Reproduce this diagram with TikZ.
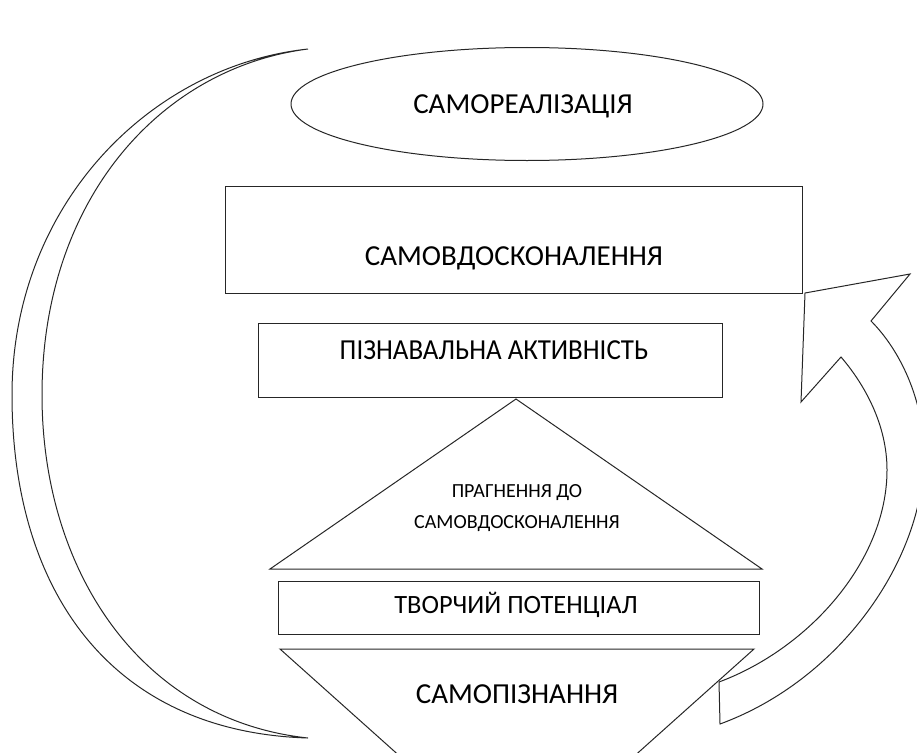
\documentclass[tikz,border=0pt]{standalone}
\usepackage{fontspec}
\usepackage{graphicx}
\setmainfont{Carlito}
\usetikzlibrary{shapes.geometric}
\begin{document}
\begin{tikzpicture}[x=1pt,y=-1pt,
  ln/.style={draw=black!85,line width=1pt,line join=miter},
  box/.style={ln,rectangle,inner sep=0pt},
  big/.style={font=\fontsize{29}{34}\selectfont,anchor=base,inner sep=0pt},
  mid/.style={font=\fontsize{26.4}{31}\selectfont,anchor=base,inner sep=0pt},
  small/.style={font=\fontsize{20}{24}\selectfont,anchor=base,inner sep=0pt}]
\path[use as bounding box, clip] (0,0) rectangle (917,752);
% left crescent arrow
\draw[ln] (308,49) .. controls (150,66) and (12,205) .. (12,395)
  .. controls (12,590) and (110,732) .. (308,738)
  .. controls (140,720) and (42,570) .. (42,395)
  .. controls (42,200) and (160,68) .. (308,49) -- cycle;
% right curved arrow
\draw[ln] (805,293) -- (910,274) -- (871,321)
  .. controls (900,350) and (924,400) .. (924,455)
  .. controls (924,560) and (840,680) .. (720,724)
  -- (719,682)
  .. controls (810,648) and (887,560) .. (887,470)
  .. controls (887,425) and (865,385) .. (841,357)
  -- (801,402) -- cycle;
% shapes
\node[ln,ellipse,minimum width=472pt,minimum height=113pt,inner sep=0pt] (real) at (527,104) {};
\node[box,minimum width=577pt,minimum height=107pt] (impr) at (513.5,239.5) {};
\node[box,minimum width=464pt,minimum height=74pt] (act) at (490,360) {};
\coordinate (apex) at (516,399);
\draw[ln] (270,569) -- (762,569) -- (apex) -- cycle;
\node[box,minimum width=481pt,minimum height=53pt] (pot) at (518.5,607.5) {};
\coordinate (vtx) at (517,861);
\draw[ln] (280,649) -- (754,649) -- (vtx) -- cycle;
% texts
\node[big] (treal) at (523,113) {САМОРЕАЛІЗАЦІЯ};
\node[big] (timpr) at (514,265) {САМОВДОСКОНАЛЕННЯ};
\node[big] (tact) at (494,359) {\scalebox{0.93}[1]{ПІЗНАВАЛЬНА АКТИВНІСТЬ}};
\node[small] (tstr1) at (517,497) {ПРАГНЕННЯ ДО};
\node[small] (tstr2) at (517,528) {САМОВДОСКОНАЛЕННЯ};
\node[mid] (tpot) at (516,613) {ТВОРЧИЙ ПОТЕНЦІАЛ};
\node[big] (tknow) at (517,703) {САМОПІЗНАННЯ};
\end{tikzpicture}
\end{document}
